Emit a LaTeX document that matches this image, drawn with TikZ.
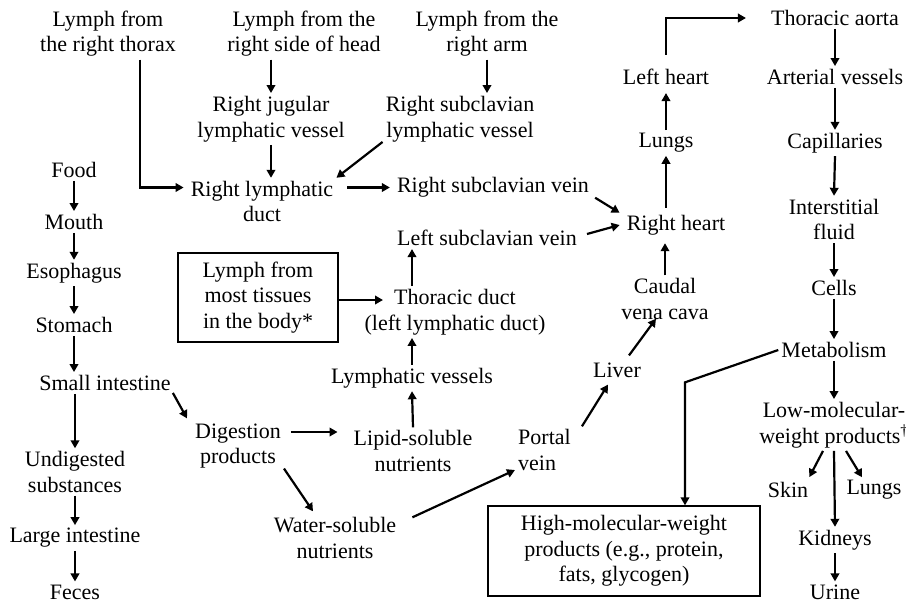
\documentclass[tikz,border=0pt]{standalone}
\usepackage{fontspec}
\setmainfont{Liberation Serif}
\usetikzlibrary{arrows.meta,calc}
\begin{document}
\begin{tikzpicture}[x=1pt,y=-1pt,
  lbl/.style={inner sep=3pt, align=center, font=\fontsize{22}{25.5}\selectfont},
  boxed/.style={lbl, draw, line width=1.3pt, inner sep=0pt},
  arr/.style={line width=2.2pt, -{Triangle[length=8pt,width=8.5pt]}},
]
\useasboundingbox (0,0) rectangle (906,606);

% lymph from the right side of the body
\node[lbl] (thorax) at (108,33.5) {Lymph from\\the right thorax};
\node[lbl] (head)   at (304,33.5) {Lymph from the\\right side of head};
\node[lbl] (arm)    at (487,33.5) {Lymph from the\\right arm};
\node[lbl] (jug)    at (271,119)  {Right jugular\\lymphatic vessel};
\node[lbl] (rslv)   at (460,119)  {Right subclavian\\lymphatic vessel};
\node[lbl] (rld)    at (262,201.5){Right lymphatic\\duct};
\node[lbl] (rsv)    at (493,187.5){Right subclavian vein};
\node[lbl] (lsv)    at (487,238)  {Left subclavian vein};

% heart and lungs
\node[lbl] (rh)     at (676,225)  {Right heart};
\node[lbl] (lungsA) at (666,143)  {Lungs};
\node[lbl] (lh)     at (666,77)   {Left heart};
\node[lbl] (caudal) at (665,299)  {Caudal\\vena cava};
\node[lbl] (liver)  at (617,370)  {Liver};
\node[lbl, align=left, anchor=west] (portal) at (515,450) {Portal\\vein};

% systemic circulation
\node[lbl] (aorta)  at (835,18)   {Thoracic aorta};
\node[lbl] (art)    at (835,77)   {Arterial vessels};
\node[lbl] (cap)    at (835,143)  {Capillaries};
\node[lbl] (inter)  at (834,219.5){Interstitial\\fluid};
\node[lbl] (cells)  at (834,288)  {Cells};
\node[lbl] (metab)  at (834,350)  {Metabolism};
\node[lbl] (low)    at (834,425)  {Low-molecular-\\weight products\textsuperscript{†}};
\node[lbl] (skin)   at (788,490)  {Skin};
\node[lbl] (lungsB) at (874,490)  {Lungs};
\node[lbl] (kid)    at (835,540)  {Kidneys};
\node[lbl] (urine)  at (835,592)  {Urine};
\node[boxed, minimum width=272, minimum height=90] (hmw) at (624,551)
  {High-molecular-weight\\products (e.g., protein,\\fats, glycogen)};

% thoracic duct
\node[boxed, minimum width=160, minimum height=89] (lbox) at (258,297.5)
  {Lymph from\\most tissues\\in the body*};
\node[lbl] (td)     at (455,312)  {Thoracic duct\\(left lymphatic duct)};
\node[lbl] (lv)     at (412,378)  {Lymphatic vessels};
\node[lbl] (lipid)  at (413,451)  {Lipid-soluble\\nutrients};
\node[lbl] (dig)    at (238,446)  {Digestion\\products};
\node[lbl] (water)  at (335,538)  {Water-soluble\\nutrients};

% digestive tract
\node[lbl] (food)   at (74,170)   {Food};
\node[lbl] (mouth)  at (74,222)   {Mouth};
\node[lbl] (eso)    at (74,273)   {Esophagus};
\node[lbl] (stom)   at (74,325)   {Stomach};
\node[lbl] (si)     at (105,383)  {Small intestine};
\node[lbl] (undig)  at (75,472)   {Undigested\\substances};
\node[lbl] (li)     at (75,538)   {Large intestine};
\node[lbl] (feces)  at (75,592)   {Feces};

% right lymphatic drainage
\draw[arr] ($(thorax.south)+(32,0)$) |- ($(rld.west)+(-4,-14)$);
\draw[arr] (jug.north |- head.south) -- (jug.north);
\draw[arr] (jug.south) -- (jug.south |- rld.north);
\draw[arr] (arm.south) -- (arm.south |- rslv.north);
\draw[arr] ($(rslv.south west)+(0,-3)$) -- (rld.north east);
\draw[arr] ($(rld.east)+(11,-14)$) -- ($(rsv.west)+(-4,0)$);
\draw[arr] ($(rsv.south east)+(3,-3)$) -- ($(rh.north west)+(-4,1)$);
\draw[arr] ($(lsv.east)+(7,-4)$) -- ($(rh.west)+(-4,0)$);

% heart, lungs and aorta
\draw[arr] (caudal.north) -- ($(caudal.north |- rh.south)+(0,5)$);
\draw[arr] ($(lungsA.south |- rh.north)+(0,-4)$) -- (lungsA.south);
\draw[arr] (lungsA.north) -- ($(lh.south)+(0,5)$);
\draw[arr, shorten <=11pt, shorten >=22pt] (lh.north) |- (aorta.west);

% systemic chain
\draw[arr] (aorta.south) -- (art.north);
\draw[arr] (art.south) -- (cap.north);
\draw[arr] (cap.south) -- (inter.north);
\draw[arr] (inter.south) -- (cells.north);
\draw[arr] (cells.south) -- (metab.north);
\draw[arr] (metab.south) -- (low.north);
\draw[arr] (metab.west) -- ($(hmw.north)+(61,-123)$) -- ($(hmw.north)+(61,0)$);
\draw[arr] ($(low.south)+(-11,0)$) -- ($(skin.north east)+(-2,-2)$);
\draw[arr] ($(low.south)+(12,0)$) -- ($(lungsB.north)+(-12,0)$);
\draw[arr] (low.south) -- (kid.north);
\draw[arr] (kid.south) -- (urine.north);

% portal route
\draw[arr] ($(liver.north)+(12,-4)$) -- ($(caudal.south)+(-9,-4)$);
\draw[arr] ($(portal.north east)+(8,0)$) -- ($(liver.south)+(-9,4)$);
\draw[arr] ($(water.north east)+(13,3)$) -- ($(portal.west)+(0,20)$);
\draw[arr] ($(dig.south east)+(0,-3)$) -- ($(water.north)+(-22,-3)$);

% lymphatic route
\draw[arr] ($(dig.east)+(7,-14)$) -- ($(lipid.west)+(-13,-19)$);
\draw[arr] (lipid.north) -- (lv.south);
\draw[arr] (lv.north) -- (lv.north |- td.south);
\draw[arr] (lv.north |- td.north) -- (lv.north |- lsv.south);
\draw[arr] ($(lbox.east)+(0,2.5)$) -- ($(lbox.east -| td.north)+(-72,2.5)$);

% digestive tract
\draw[arr] (food.south) -- (mouth.north);
\draw[arr] (mouth.south) -- (eso.north);
\draw[arr] (eso.south) -- (stom.north);
\draw[arr] (stom.south) -- (stom.south |- si.north);
\draw[arr] ($(si.south east)+(-1,-1)$) -- ($(dig.north west)+(-5,-2)$);
\draw[arr] (si.south -| undig.north) -- (undig.north);
\draw[arr] (undig.south) -- (li.north);
\draw[arr] (li.south) -- (feces.north);
\end{tikzpicture}
\end{document}
